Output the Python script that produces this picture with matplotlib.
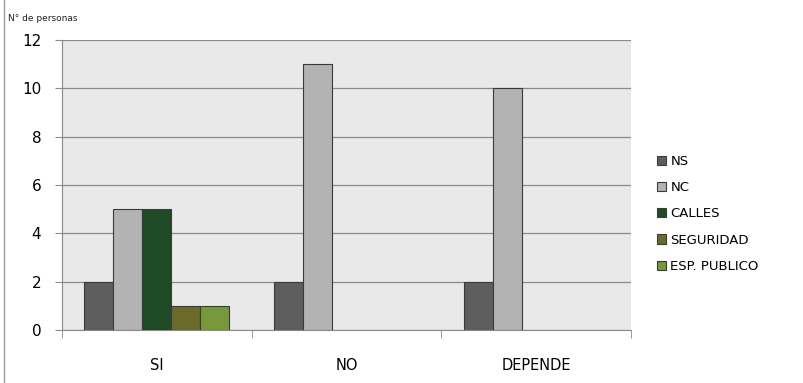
import matplotlib.pyplot as plt
import numpy as np

# Respuestas por grupo
grupos = ["SI", "NO", "DEPENDE"]
series = ["NS", "NC", "CALLES", "SEGURIDAD", "ESP. PUBLICO"]
valores = {
    "NS": [2, 2, 2],
    "NC": [5, 11, 10],
    "CALLES": [5, 0, 0],
    "SEGURIDAD": [1, 0, 0],
    "ESP. PUBLICO": [1, 0, 0],
}
colores = ["#5e5e5e", "#b3b3b3", "#1f4a26", "#6b6a2b", "#77993b"]

fig = plt.figure(figsize=(8.04, 3.83), dpi=100)
ax = fig.add_axes([0.0771, 0.1384, 0.7077, 0.7572])
ax.set_facecolor("#e8e9e8")

x = np.arange(len(grupos))
ancho = 0.153
for i, (nombre, color) in enumerate(zip(series, colores)):
    v = np.array(valores[nombre], dtype=float)
    pos = x + (i - 2) * ancho
    mask = v > 0
    ax.bar(pos[mask], v[mask], width=ancho, color=color, edgecolor="#3a3a3a",
           linewidth=0.8, label=nombre, zorder=3)

ax.set_xlim(-0.5, 2.5)
ax.set_ylim(0, 12)
ax.set_yticks(range(0, 13, 2))
ax.yaxis.grid(True, color="#8a8a8a", linewidth=0.9, zorder=0)
ax.set_xticks(x)
ax.set_xticklabels(grupos)
ax.set_xticks([-0.5, 0.5, 1.5, 2.5], minor=True)
ax.tick_params(axis="x", which="major", length=0, pad=20, labelsize=10.5)
ax.tick_params(axis="x", which="minor", length=6, color="#8a8a8a")
ax.tick_params(axis="y", length=5, color="#8a8a8a", labelsize=11, pad=10)

for lado in ["top", "right"]:
    ax.spines[lado].set_visible(False)
ax.spines["left"].set_color("#8a8a8a")
ax.spines["bottom"].set_color("#8a8a8a")

fig.text(0.01, 0.945, "N° de personas", fontsize=6.5, color="#222222")
fig.add_artist(plt.Line2D([0.005, 0.005], [0, 1], color="#999999", linewidth=1))

ax.legend(loc="center left", bbox_to_anchor=(1.025, 0.40), frameon=False,
          fontsize=9.5, handlelength=0.7, handleheight=0.7, labelspacing=1.0,
          handletextpad=0.3)

fig.savefig("out.png", dpi=100)
